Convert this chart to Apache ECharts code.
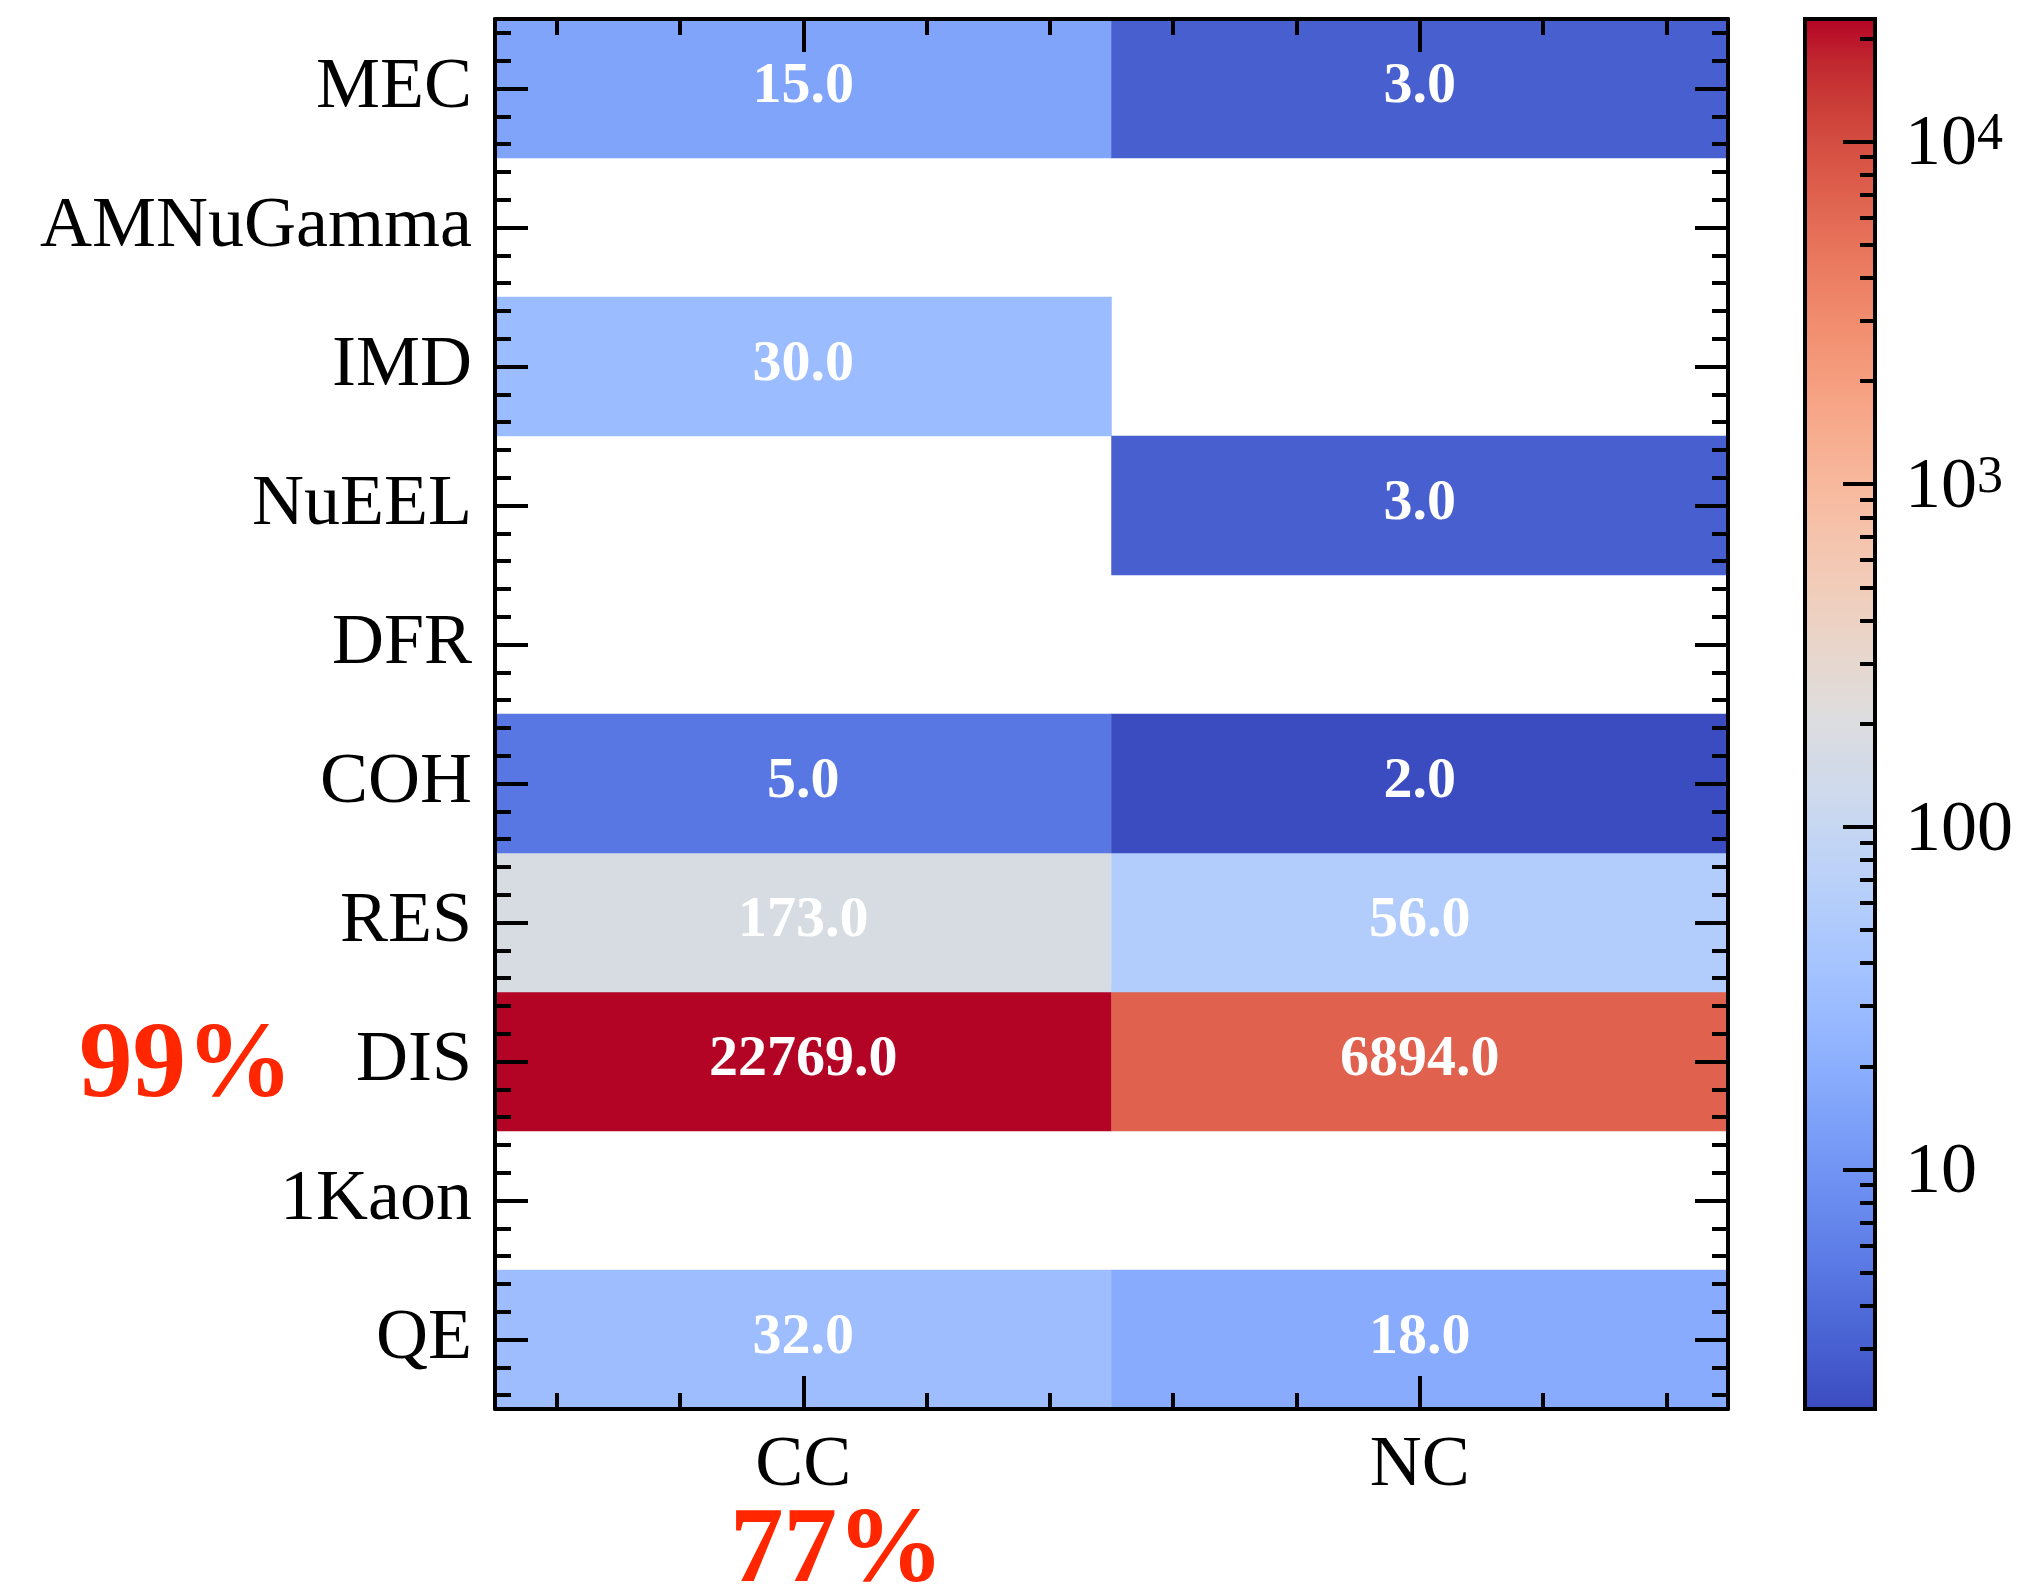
<!DOCTYPE html>
<html>
<head>
<meta charset="utf-8">
<script src="https://cdn.jsdelivr.net/npm/echarts@6/dist/echarts.min.js"></script>
<style>
  html, body { margin: 0; padding: 0; background: #ffffff; }
  #chart { width: 2034px; height: 1586px; }
</style>
</head>
<body>
<div id="chart"></div>
<script>
// Interaction channels (columns) and interaction processes (rows, bottom to top)
const interactionTypes = ['CC', 'NC'];
const processes = ['QE', '1Kaon', 'DIS', 'RES', 'COH', 'DFR', 'NuEEL', 'IMD', 'AMNuGamma', 'MEC'];

// Event counts per process; null = no events
const ccEvents = [32, null, 22769, 173, 5, null, null, 30, null, 15];
const ncEvents = [18, null, 6894, 56, 2, null, 3, null, null, 3];

// Colour bar (log scale) tick values and labels
const colorbarTicks = [10, 100, 1000, 10000];
const colorbarTickLabels = ['10', '100', '10{sup|3}', '10{sup|4}'];
const colorbarMinorTicks = [2, 3, 4, 5, 6, 7, 8, 9, 20, 30, 40, 50, 60, 70, 80, 90,
  200, 300, 400, 500, 600, 700, 800, 900, 2000, 3000, 4000, 5000, 6000, 7000, 8000, 9000, 20000];

// Share annotations
const disShare = '99%';
const ccShare = '77%';

// coolwarm colour map stops
const coolwarm = [
  '#3b4cc0', '#445acc', '#4d68d7', '#5775e1', '#6282ea', '#6c8ef1', '#779af7', '#82a5fb',
  '#8db0fe', '#98b9ff', '#a3c2ff', '#aec9fd', '#b8d0f9', '#c2d5f4', '#ccd9ee', '#d5dbe6',
  '#dddddd', '#e5d8d1', '#ecd3c5', '#f1ccb9', '#f5c4ad', '#f7bba0', '#f7b194', '#f7a687',
  '#f49a7b', '#f18d6f', '#ec7f63', '#e57058', '#de604d', '#d55042', '#cb3e38', '#c0282f',
  '#b40426'
];

const FONT = '"Liberation Serif", "Times New Roman", serif';

// heatmap cells: [column, row, count, log10(count)]
const cells = [];
const allCounts = [];
[ccEvents, ncEvents].forEach((col, j) => {
  col.forEach((v, i) => {
    if (v !== null) {
      cells.push([j, i, v, Math.log10(v)]);
      allCounts.push(v);
    }
  });
});
const vmin = Math.min(...allCounts);
const vmax = Math.max(...allCounts);

// minor tick positions between category centres
const minorOffsets = [-0.4, -0.2, 0.2, 0.4];
const xMinor = [];
interactionTypes.forEach((_, j) => minorOffsets.forEach(o => xMinor.push(j + o)));
const yMinor = [];
processes.forEach((_, i) => minorOffsets.forEach(o => yMinor.push(i + o)));

const GRID = { left: 495, top: 19, width: 1233, height: 1390 };
const CBAR = { left: 1805, top: 19, width: 70, height: 1390 };

const lineStyle = { color: '#000', width: 4 };

function catAxisX(position, showLabel) {
  return {
    type: 'category', gridIndex: 0, position: position, data: interactionTypes,
    z: 10,
    axisLine: { show: true, onZero: false, lineStyle: lineStyle },
    axisTick: { show: true, inside: true, alignWithLabel: true, length: 33, lineStyle: lineStyle },
    axisLabel: { show: showLabel, interval: 0, margin: 21, color: '#000', fontFamily: FONT, fontSize: 72 },
    splitLine: { show: false }
  };
}
function catAxisY(position, showLabel) {
  return {
    type: 'category', gridIndex: 0, position: position, data: processes,
    z: 10,
    axisLine: { show: true, onZero: false, lineStyle: lineStyle },
    axisTick: { show: true, inside: true, alignWithLabel: true, length: 33, lineStyle: lineStyle },
    axisLabel: { show: showLabel, interval: 0, margin: 23, padding: [8, 0, 0, 0], color: '#000', fontFamily: FONT, fontSize: 72 },
    splitLine: { show: false }
  };
}
function minorAxis(position, min, max, values) {
  return {
    type: 'value', gridIndex: 0, position: position, min: min, max: max,
    z: 10,
    axisLine: { show: false, onZero: false },
    axisTick: { show: true, inside: true, length: 16, lineStyle: lineStyle, customValues: values },
    axisLabel: { show: false },
    splitLine: { show: false }
  };
}

const option = {
  animation: false,
  backgroundColor: '#ffffff',
  grid: [
    Object.assign({ containLabel: false }, GRID),
    Object.assign({ show: true, borderColor: '#000', borderWidth: 4, backgroundColor: 'transparent', z: 10 }, CBAR)
  ],
  xAxis: [
    catAxisX('bottom', true),
    catAxisX('top', false),
    minorAxis('bottom', -0.5, interactionTypes.length - 0.5, xMinor),
    minorAxis('top', -0.5, interactionTypes.length - 0.5, xMinor),
    { type: 'value', gridIndex: 1, show: false, min: 0, max: 1, axisLine: { onZero: false } }
  ],
  yAxis: [
    catAxisY('left', true),
    catAxisY('right', false),
    minorAxis('left', -0.5, processes.length - 0.5, yMinor),
    minorAxis('right', -0.5, processes.length - 0.5, yMinor),
    {
      type: 'log', logBase: 10, gridIndex: 1, position: 'right', min: vmin, max: vmax,
      z: 10,
      axisLine: { show: false, onZero: false },
      axisTick: { show: true, inside: true, length: 32, lineStyle: lineStyle, customValues: colorbarTicks },
      axisLabel: {
        show: true, margin: 30, padding: [8, 0, 0, 0], color: '#000', fontFamily: FONT, fontSize: 72,
        customValues: colorbarTicks,
        formatter: function (v) {
          const k = colorbarTicks.findIndex(t => Math.abs(t - v) / t < 1e-6);
          return k >= 0 ? colorbarTickLabels[k] : '';
        },
        rich: {
          sup: { fontFamily: FONT, fontSize: 52, color: '#000', verticalAlign: 'top', lineHeight: 41 }
        }
      },
      splitLine: { show: false }
    },
    {
      type: 'log', logBase: 10, gridIndex: 1, position: 'right', min: vmin, max: vmax,
      z: 10,
      axisLine: { show: false, onZero: false },
      axisTick: { show: true, inside: true, length: 15, lineStyle: lineStyle, customValues: colorbarMinorTicks },
      axisLabel: { show: false },
      splitLine: { show: false }
    }
  ],
  visualMap: {
    type: 'continuous',
    seriesIndex: 0,
    dimension: 3,
    min: Math.log10(vmin),
    max: Math.log10(vmax),
    calculable: false,
    hoverLink: false,
    left: CBAR.left,
    top: CBAR.top,
    itemWidth: CBAR.width,
    itemHeight: CBAR.height,
    padding: 0,
    z: 1,
    inRange: { color: coolwarm }
  },
  series: [{
    type: 'heatmap',
    xAxisIndex: 0,
    yAxisIndex: 0,
    data: cells,
    label: {
      show: true,
      color: '#ffffff',
      fontFamily: FONT,
      fontWeight: 'bold',
      fontSize: 58,
      offset: [0, -1],
      formatter: p => p.value[2].toFixed(1)
    },
    emphasis: { disabled: true }
  }],
  graphic: [
    {
      type: 'text', x: 186, y: 1068, z: 20,
      style: { text: disShare, fill: '#ff2600', font: 'bold 107px ' + FONT, textAlign: 'center', textVerticalAlign: 'middle' }
    },
    {
      type: 'text', x: 837, y: 1553, z: 20,
      style: { text: ccShare, fill: '#ff2600', font: 'bold 107px ' + FONT, textAlign: 'center', textVerticalAlign: 'middle' }
    }
  ]
};

const chart = echarts.init(document.getElementById('chart'), null, { renderer: 'canvas' });
chart.setOption(option);
</script>
</body>
</html>
